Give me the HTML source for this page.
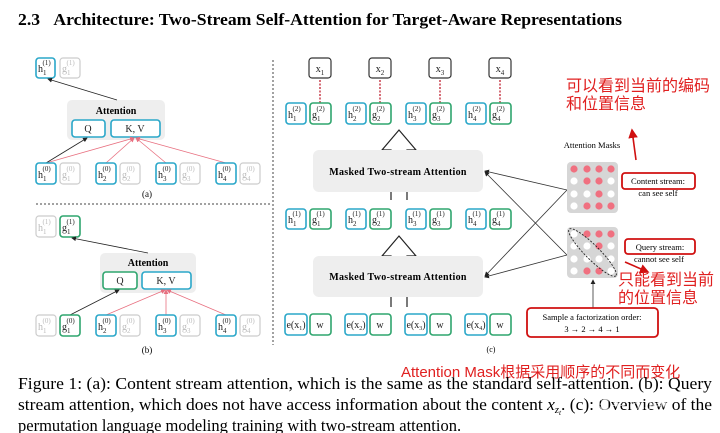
<!DOCTYPE html>
<html><head><meta charset="utf-8"><style>
body{margin:0;background:#fff;width:720px;height:433px;overflow:hidden}
svg{display:block}
.t{font-family:"Liberation Serif",serif}
.c{fill:#fff;stroke:#2aa7c9;stroke-width:1.6}
.g{fill:#fff;stroke:#2fa56e;stroke-width:1.6}
.n{fill:#fff;stroke:#ccc;stroke-width:1.2}
.k{fill:#fff;stroke:#333;stroke-width:1.2}
.lb{font-family:"Liberation Serif",serif;font-size:10px;fill:#222}
.lg{font-family:"Liberation Serif",serif;font-size:10px;fill:#bbb}
.zh{font-family:"Liberation Sans","Noto Sans CJK SC",sans-serif;fill:#e02020}
</style></head><body>
<svg width="720" height="433" viewBox="0 0 720 433" xmlns="http://www.w3.org/2000/svg">
<defs>
<marker id="ab" markerWidth="6" markerHeight="6" refX="5" refY="3" orient="auto"><path d="M0,0L6,3L0,6z" fill="#222"/></marker>
<marker id="ar" markerWidth="6" markerHeight="6" refX="5" refY="3" orient="auto"><path d="M0,0L6,3L0,6z" fill="#e87080"/></marker>
<marker id="rr" markerWidth="6" markerHeight="6" refX="5" refY="3" orient="auto"><path d="M0,0L6,3L0,6z" fill="#d01010"/></marker>
</defs>
<text x="18" y="25" class="t" font-size="17" font-weight="bold" textLength="604" lengthAdjust="spacingAndGlyphs">2.3&#160;&#160;&#160;Architecture: Two-Stream Self-Attention for Target-Aware Representations</text>

<!-- dashed separators -->
<line x1="36" y1="204" x2="270" y2="204" stroke="#444" stroke-dasharray="2,2"/>
<line x1="273" y1="60" x2="273" y2="345" stroke="#444" stroke-dasharray="2,2"/>

<!-- (a) -->
<rect x="36" y="58" width="19" height="20" rx="3" class="c"/><text x="38" y="72" class="lb">h<tspan font-size="7" dy="3">1</tspan><tspan font-size="7" dx="-4" dy="-10">(1)</tspan></text>
<rect x="60" y="58" width="20" height="20" rx="3" class="n"/><text x="62" y="72" class="lg">g<tspan font-size="7" dy="3">1</tspan><tspan font-size="7" dx="-4" dy="-10">(1)</tspan></text>
<rect x="67" y="100" width="98" height="40" rx="5" fill="#eee"/>
<text x="116" y="114" class="t" font-size="10" font-weight="bold" text-anchor="middle">Attention</text>
<rect x="72" y="120" width="33" height="17" rx="3" class="c"/><text x="88" y="132" class="lb" text-anchor="middle">Q</text>
<rect x="111" y="120" width="49" height="17" rx="3" class="c"/><text x="135" y="132" class="lb" text-anchor="middle">K, V</text>
<g stroke="#e87080" stroke-width="0.8" marker-end="url(#ar)">
<line x1="46" y1="163" x2="134" y2="138"/><line x1="106" y1="163" x2="134" y2="138"/><line x1="166" y1="163" x2="136" y2="138"/><line x1="226" y1="163" x2="136" y2="138"/></g>
<line x1="46" y1="163" x2="87" y2="138" stroke="#222" stroke-width="0.8" marker-end="url(#ab)"/>
<line x1="117" y1="100" x2="48" y2="79" stroke="#222" stroke-width="0.8" marker-end="url(#ab)"/>
<rect x="36" y="163" width="20" height="21" rx="3" class="c"/><text x="38" y="178" class="lb">h<tspan font-size="7" dy="3">1</tspan><tspan font-size="7" dx="-4" dy="-10">(0)</tspan></text>
<rect x="60" y="163" width="20" height="21" rx="3" class="n"/><text x="62" y="178" class="lg">g<tspan font-size="7" dy="3">1</tspan><tspan font-size="7" dx="-4" dy="-10">(0)</tspan></text>
<rect x="96" y="163" width="20" height="21" rx="3" class="c"/><text x="98" y="178" class="lb">h<tspan font-size="7" dy="3">2</tspan><tspan font-size="7" dx="-4" dy="-10">(0)</tspan></text>
<rect x="120" y="163" width="20" height="21" rx="3" class="n"/><text x="122" y="178" class="lg">g<tspan font-size="7" dy="3">2</tspan><tspan font-size="7" dx="-4" dy="-10">(0)</tspan></text>
<rect x="156" y="163" width="20" height="21" rx="3" class="c"/><text x="158" y="178" class="lb">h<tspan font-size="7" dy="3">3</tspan><tspan font-size="7" dx="-4" dy="-10">(0)</tspan></text>
<rect x="180" y="163" width="20" height="21" rx="3" class="n"/><text x="182" y="178" class="lg">g<tspan font-size="7" dy="3">3</tspan><tspan font-size="7" dx="-4" dy="-10">(0)</tspan></text>
<rect x="216" y="163" width="20" height="21" rx="3" class="c"/><text x="218" y="178" class="lb">h<tspan font-size="7" dy="3">4</tspan><tspan font-size="7" dx="-4" dy="-10">(0)</tspan></text>
<rect x="240" y="163" width="20" height="21" rx="3" class="n"/><text x="242" y="178" class="lg">g<tspan font-size="7" dy="3">4</tspan><tspan font-size="7" dx="-4" dy="-10">(0)</tspan></text>
<text x="147" y="197" class="t" font-size="9" text-anchor="middle">(a)</text>

<!-- (b) -->
<rect x="36" y="216" width="20" height="21" rx="3" class="n"/><text x="38" y="231" class="lg">h<tspan font-size="7" dy="3">1</tspan><tspan font-size="7" dx="-4" dy="-10">(1)</tspan></text>
<rect x="60" y="216" width="20" height="21" rx="3" class="g"/><text x="62" y="231" class="lb">g<tspan font-size="7" dy="3">1</tspan><tspan font-size="7" dx="-4" dy="-10">(1)</tspan></text>
<rect x="100" y="253" width="96" height="40" rx="5" fill="#eee"/>
<text x="148" y="266" class="t" font-size="10" font-weight="bold" text-anchor="middle">Attention</text>
<rect x="103" y="272" width="34" height="17" rx="3" class="g"/><text x="120" y="284" class="lb" text-anchor="middle">Q</text>
<rect x="142" y="272" width="49" height="17" rx="3" class="c"/><text x="166" y="284" class="lb" text-anchor="middle">K, V</text>
<g stroke="#e87080" stroke-width="0.8" marker-end="url(#ar)">
<line x1="106" y1="315" x2="165" y2="290"/><line x1="166" y1="315" x2="166" y2="290"/><line x1="226" y1="315" x2="167" y2="290"/></g>
<line x1="70" y1="315" x2="119" y2="290" stroke="#222" stroke-width="0.8" marker-end="url(#ab)"/>
<line x1="148" y1="253" x2="72" y2="238" stroke="#222" stroke-width="0.8" marker-end="url(#ab)"/>
<rect x="36" y="315" width="20" height="21" rx="3" class="n"/><text x="38" y="330" class="lg">h<tspan font-size="7" dy="3">1</tspan><tspan font-size="7" dx="-4" dy="-10">(0)</tspan></text>
<rect x="60" y="315" width="20" height="21" rx="3" class="g"/><text x="62" y="330" class="lb">g<tspan font-size="7" dy="3">1</tspan><tspan font-size="7" dx="-4" dy="-10">(0)</tspan></text>
<rect x="96" y="315" width="20" height="21" rx="3" class="c"/><text x="98" y="330" class="lb">h<tspan font-size="7" dy="3">2</tspan><tspan font-size="7" dx="-4" dy="-10">(0)</tspan></text>
<rect x="120" y="315" width="20" height="21" rx="3" class="n"/><text x="122" y="330" class="lg">g<tspan font-size="7" dy="3">2</tspan><tspan font-size="7" dx="-4" dy="-10">(0)</tspan></text>
<rect x="156" y="315" width="20" height="21" rx="3" class="c"/><text x="158" y="330" class="lb">h<tspan font-size="7" dy="3">3</tspan><tspan font-size="7" dx="-4" dy="-10">(0)</tspan></text>
<rect x="180" y="315" width="20" height="21" rx="3" class="n"/><text x="182" y="330" class="lg">g<tspan font-size="7" dy="3">3</tspan><tspan font-size="7" dx="-4" dy="-10">(0)</tspan></text>
<rect x="216" y="315" width="20" height="21" rx="3" class="c"/><text x="218" y="330" class="lb">h<tspan font-size="7" dy="3">4</tspan><tspan font-size="7" dx="-4" dy="-10">(0)</tspan></text>
<rect x="240" y="315" width="20" height="21" rx="3" class="n"/><text x="242" y="330" class="lg">g<tspan font-size="7" dy="3">4</tspan><tspan font-size="7" dx="-4" dy="-10">(0)</tspan></text>
<text x="147" y="353" class="t" font-size="9" text-anchor="middle">(b)</text>

<!-- (c) -->
<g stroke="#c02030" stroke-width="1.3" stroke-dasharray="2,1.5"><line x1="320" y1="80" x2="320" y2="103"/><line x1="380" y1="80" x2="380" y2="103"/><line x1="440" y1="80" x2="440" y2="103"/><line x1="500" y1="80" x2="500" y2="103"/></g>
<rect x="309" y="58" width="22" height="20" rx="3" class="k"/><text x="320" y="72" class="lb" text-anchor="middle">x<tspan font-size="7" dy="3">1</tspan></text>
<rect x="369" y="58" width="22" height="20" rx="3" class="k"/><text x="380" y="72" class="lb" text-anchor="middle">x<tspan font-size="7" dy="3">2</tspan></text>
<rect x="429" y="58" width="22" height="20" rx="3" class="k"/><text x="440" y="72" class="lb" text-anchor="middle">x<tspan font-size="7" dy="3">3</tspan></text>
<rect x="489" y="58" width="22" height="20" rx="3" class="k"/><text x="500" y="72" class="lb" text-anchor="middle">x<tspan font-size="7" dy="3">4</tspan></text>

<!-- row 2 -->
<rect x="286" y="103" width="20" height="21" rx="3" class="c"/><text x="288" y="118" class="lb">h<tspan font-size="7" dy="3">1</tspan><tspan font-size="7" dx="-4" dy="-10">(2)</tspan></text>
<rect x="310" y="103" width="21" height="21" rx="3" class="g"/><text x="312" y="118" class="lb">g<tspan font-size="7" dy="3">1</tspan><tspan font-size="7" dx="-4" dy="-10">(2)</tspan></text>
<rect x="346" y="103" width="20" height="21" rx="3" class="c"/><text x="348" y="118" class="lb">h<tspan font-size="7" dy="3">2</tspan><tspan font-size="7" dx="-4" dy="-10">(2)</tspan></text>
<rect x="370" y="103" width="21" height="21" rx="3" class="g"/><text x="372" y="118" class="lb">g<tspan font-size="7" dy="3">2</tspan><tspan font-size="7" dx="-4" dy="-10">(2)</tspan></text>
<rect x="406" y="103" width="20" height="21" rx="3" class="c"/><text x="408" y="118" class="lb">h<tspan font-size="7" dy="3">3</tspan><tspan font-size="7" dx="-4" dy="-10">(2)</tspan></text>
<rect x="430" y="103" width="21" height="21" rx="3" class="g"/><text x="432" y="118" class="lb">g<tspan font-size="7" dy="3">3</tspan><tspan font-size="7" dx="-4" dy="-10">(2)</tspan></text>
<rect x="466" y="103" width="20" height="21" rx="3" class="c"/><text x="468" y="118" class="lb">h<tspan font-size="7" dy="3">4</tspan><tspan font-size="7" dx="-4" dy="-10">(2)</tspan></text>
<rect x="490" y="103" width="21" height="21" rx="3" class="g"/><text x="492" y="118" class="lb">g<tspan font-size="7" dy="3">4</tspan><tspan font-size="7" dx="-4" dy="-10">(2)</tspan></text>

<!-- hollow arrows -->
<path d="M391,200 V150 H382 L399,130 L416,150 H407 V200" fill="#fff" stroke="#222" stroke-width="1.2"/>
<path d="M391,307 V256 H382 L399,236 L416,256 H407 V307" fill="#fff" stroke="#222" stroke-width="1.2"/>
<rect x="313" y="150" width="170" height="42" rx="6" fill="#eee"/>
<text x="398" y="175" class="t" font-size="10" font-weight="bold" text-anchor="middle" letter-spacing="0.3">Masked Two-stream Attention</text>
<rect x="313" y="256" width="170" height="41" rx="6" fill="#eee"/>
<text x="398" y="280" class="t" font-size="10" font-weight="bold" text-anchor="middle" letter-spacing="0.3">Masked Two-stream Attention</text>

<!-- row 1 -->
<rect x="286" y="209" width="20" height="20" rx="3" class="c"/><text x="288" y="223" class="lb">h<tspan font-size="7" dy="3">1</tspan><tspan font-size="7" dx="-4" dy="-10">(1)</tspan></text>
<rect x="310" y="209" width="21" height="20" rx="3" class="g"/><text x="312" y="223" class="lb">g<tspan font-size="7" dy="3">1</tspan><tspan font-size="7" dx="-4" dy="-10">(1)</tspan></text>
<rect x="346" y="209" width="20" height="20" rx="3" class="c"/><text x="348" y="223" class="lb">h<tspan font-size="7" dy="3">2</tspan><tspan font-size="7" dx="-4" dy="-10">(1)</tspan></text>
<rect x="370" y="209" width="21" height="20" rx="3" class="g"/><text x="372" y="223" class="lb">g<tspan font-size="7" dy="3">2</tspan><tspan font-size="7" dx="-4" dy="-10">(1)</tspan></text>
<rect x="406" y="209" width="20" height="20" rx="3" class="c"/><text x="408" y="223" class="lb">h<tspan font-size="7" dy="3">3</tspan><tspan font-size="7" dx="-4" dy="-10">(1)</tspan></text>
<rect x="430" y="209" width="21" height="20" rx="3" class="g"/><text x="432" y="223" class="lb">g<tspan font-size="7" dy="3">3</tspan><tspan font-size="7" dx="-4" dy="-10">(1)</tspan></text>
<rect x="466" y="209" width="20" height="20" rx="3" class="c"/><text x="468" y="223" class="lb">h<tspan font-size="7" dy="3">4</tspan><tspan font-size="7" dx="-4" dy="-10">(1)</tspan></text>
<rect x="490" y="209" width="21" height="20" rx="3" class="g"/><text x="492" y="223" class="lb">g<tspan font-size="7" dy="3">4</tspan><tspan font-size="7" dx="-4" dy="-10">(1)</tspan></text>

<!-- row 0 -->
<rect x="285" y="314" width="22" height="21" rx="3" class="c"/><text x="296" y="328" class="lb" font-size="8" text-anchor="middle">e(x<tspan font-size="6" dy="2">1</tspan><tspan dy="-2">)</tspan></text>
<rect x="310" y="314" width="21" height="21" rx="3" class="g"/><text x="320" y="328" class="lb" text-anchor="middle">w</text>
<rect x="345" y="314" width="22" height="21" rx="3" class="c"/><text x="356" y="328" class="lb" font-size="8" text-anchor="middle">e(x<tspan font-size="6" dy="2">2</tspan><tspan dy="-2">)</tspan></text>
<rect x="370" y="314" width="21" height="21" rx="3" class="g"/><text x="380" y="328" class="lb" text-anchor="middle">w</text>
<rect x="405" y="314" width="22" height="21" rx="3" class="c"/><text x="416" y="328" class="lb" font-size="8" text-anchor="middle">e(x<tspan font-size="6" dy="2">3</tspan><tspan dy="-2">)</tspan></text>
<rect x="430" y="314" width="21" height="21" rx="3" class="g"/><text x="440" y="328" class="lb" text-anchor="middle">w</text>
<rect x="465" y="314" width="22" height="21" rx="3" class="c"/><text x="476" y="328" class="lb" font-size="8" text-anchor="middle">e(x<tspan font-size="6" dy="2">4</tspan><tspan dy="-2">)</tspan></text>
<rect x="490" y="314" width="21" height="21" rx="3" class="g"/><text x="500" y="328" class="lb" text-anchor="middle">w</text>
<text x="491" y="352" class="t" font-size="8" text-anchor="middle">(c)</text>

<!-- connectors from masks -->
<g stroke="#333" stroke-width="0.8" marker-end="url(#ab)">
<line x1="567" y1="190" x2="485" y2="171"/><line x1="567" y1="190" x2="485" y2="276"/>
<line x1="567" y1="255" x2="485" y2="172"/><line x1="567" y1="255" x2="485" y2="277"/>
<line x1="593" y1="308" x2="593" y2="280"/></g>

<!-- masks -->
<text x="592" y="148" class="t" font-size="8.5" text-anchor="middle">Attention Masks</text>
<rect x="567" y="162" width="51" height="51" rx="4" fill="#d6d6d6"/>
<rect x="567" y="227" width="51" height="51" rx="4" fill="#d6d6d6"/>
<g fill="#f07080">
<circle cx="574" cy="169" r="3.6"/><circle cx="587" cy="169" r="3.6"/><circle cx="599" cy="169" r="3.6"/><circle cx="611" cy="169" r="3.6"/>
<circle cx="587" cy="181" r="3.6"/><circle cx="599" cy="181" r="3.6"/>
<circle cx="599" cy="194" r="3.6"/>
<circle cx="587" cy="206" r="3.6"/><circle cx="599" cy="206" r="3.6"/><circle cx="611" cy="206" r="3.6"/>
<circle cx="587" cy="234" r="3.6"/><circle cx="599" cy="234" r="3.6"/><circle cx="611" cy="234" r="3.6"/>
<circle cx="599" cy="246" r="3.6"/>
<circle cx="587" cy="271" r="3.6"/><circle cx="599" cy="271" r="3.6"/></g>
<g fill="#fff">
<circle cx="574" cy="181" r="3.6"/><circle cx="611" cy="181" r="3.6"/>
<circle cx="574" cy="194" r="3.6"/><circle cx="587" cy="194" r="3.6"/><circle cx="611" cy="194" r="3.6"/>
<circle cx="574" cy="206" r="3.6"/>
<circle cx="574" cy="234" r="3.6"/><circle cx="574" cy="246" r="3.6"/><circle cx="587" cy="246" r="3.6"/><circle cx="611" cy="246" r="3.6"/>
<circle cx="574" cy="259" r="3.6"/><circle cx="587" cy="259" r="3.6"/><circle cx="599" cy="259" r="3.6"/><circle cx="611" cy="259" r="3.6"/>
<circle cx="574" cy="271" r="3.6"/><circle cx="611" cy="271" r="3.6"/></g>
<ellipse cx="592.5" cy="252.5" rx="33" ry="7" transform="rotate(45 592.5 252.5)" fill="none" stroke="#222" stroke-width="0.9" stroke-dasharray="2,1.5"/>

<rect x="622" y="173" width="73" height="16" rx="3" fill="#fff" stroke="#d01010" stroke-width="1.8"/>
<text x="658" y="184" class="t" font-size="8.5" text-anchor="middle">Content stream:</text>
<text x="658" y="196" class="t" font-size="8.5" text-anchor="middle">can see self</text>
<rect x="625" y="239" width="70" height="15" rx="3" fill="#fff" stroke="#d01010" stroke-width="1.8"/>
<text x="660" y="250" class="t" font-size="8.5" text-anchor="middle">Query stream:</text>
<text x="659" y="262" class="t" font-size="8.5" text-anchor="middle">cannot see self</text>
<rect x="527" y="308" width="131" height="29" rx="4" fill="#fff" stroke="#d01010" stroke-width="1.8"/>
<text x="592" y="320" class="t" font-size="8.5" text-anchor="middle">Sample a factorization order:</text>
<text x="592" y="332" class="t" font-size="8.5" text-anchor="middle">3 → 2 → 4 → 1</text>

<!-- red annotations -->
<line x1="636" y1="160" x2="632" y2="130" stroke="#d01010" stroke-width="1.6" marker-end="url(#rr)"/>
<line x1="625" y1="262" x2="648" y2="272" stroke="#d01010" stroke-width="1.6" marker-end="url(#rr)"/>
<text x="566" y="91" class="zh" font-size="16">可以看到当前的编码</text>
<text x="566" y="109" class="zh" font-size="16">和位置信息</text>
<text x="618" y="285" class="zh" font-size="16">只能看到当前</text>
<text x="618" y="303" class="zh" font-size="16">的位置信息</text>
<text x="401" y="377" class="zh" font-size="15">Attention Mask根据采用顺序的不同而变化</text>

<!-- caption -->
<text x="18" y="389" class="t" font-size="16.5" textLength="694" lengthAdjust="spacingAndGlyphs">Figure 1: (a): Content stream attention, which is the same as the standard self-attention. (b): Query</text>
<text x="18" y="410" class="t" font-size="16.5" textLength="694" lengthAdjust="spacingAndGlyphs">stream attention, which does not have access information about the content <tspan font-style="italic">x</tspan><tspan font-size="10" font-style="italic" dy="3">z</tspan><tspan font-size="7" font-style="italic" dy="2">t</tspan><tspan dy="-5">. (c): Overview of the</tspan></text>
<text x="18" y="431" class="t" font-size="16.5">permutation language modeling training with two-stream attention.</text>
<text x="595" y="410" font-family="Liberation Sans,'Noto Sans CJK SC',sans-serif" font-size="15" fill="#fff" opacity="0.6">知乎 @Jian</text>
</svg>
</body></html>
